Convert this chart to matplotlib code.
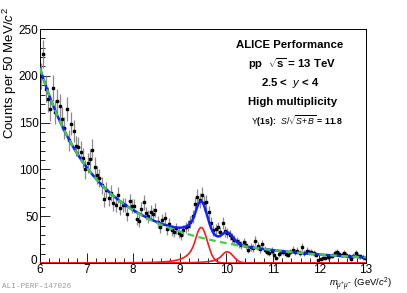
import numpy as np
import matplotlib
matplotlib.use("Agg")
import matplotlib.pyplot as plt
import matplotlib.transforms as mtransforms
from matplotlib.ticker import MultipleLocator

# ---------------- data ----------------
bin_lo, bin_hi, bin_w = 6.0, 13.0, 0.05
counts = [
    200, 223, 186, 175, 165, 187, 161, 173, 168, 154, 144, 165, 131, 149, 141,
    125, 124, 119, 112, 100, 107, 111, 121, 103, 94, 91,
    83, 68, 78, 69, 75, 64, 62, 73, 59, 62,
    62, 52, 66, 61, 61, 47, 45, 58, 65, 53,
    50, 55, 52, 57, 44, 38, 46, 48, 36, 42,
    35, 33, 37, 32, 30, 35, 38,
    40, 44, 50, 63, 71, 67, 73, 64, 65, 54, 43, 35, 36,
    38, 33, 43, 34, 32, 30, 27, 25, 23, 21,
    19, 22, 19, 14, 17, 16, 24, 18, 15, 20,
    14, 12, 11, 13, 9, 5, 10, 12, 12, 10,
    9, 12, 14, 12, 13, 11, 17, 11, 13, 12,
    12, 11, 9, 3, 4, 5, 5, 6, 7, 8,
    11, 12, 10, 9, 11, 9, 7, 4, 8, 11,
    8, 7, 6, 5,
]

# fit-function parameters
bkg_amp_fast, bkg_slope_fast = 110.0, 1.1
bkg_amp_slow, bkg_slope_slow = 98.0, 0.4
ups1_amp, ups1_mean, ups1_sigma = 38.0, 9.46, 0.135
ups2_amp, ups2_mean, ups2_sigma = 12.0, 10.02, 0.13
cb_alpha, cb_n = 1.0, 3.0

centers = bin_lo + bin_w * (np.arange(len(counts)) + 0.5)
counts = np.array(counts, dtype=float)
errors = np.sqrt(counts)


def background(m):
    return (bkg_amp_fast * np.exp(-bkg_slope_fast * (m - bin_lo))
            + bkg_amp_slow * np.exp(-bkg_slope_slow * (m - bin_lo)))


def crystal_ball(m, amp, mu, sig):
    t = (m - mu) / sig
    a = abs(cb_alpha)
    A = (cb_n / a) ** cb_n * np.exp(-a * a / 2)
    B = cb_n / a - a
    out = np.where(t > -a, np.exp(-t * t / 2),
                   A * np.power(np.clip(B - t, 1e-9, None), -cb_n))
    return amp * out


mm = np.linspace(bin_lo, bin_hi, 1400)
bk = background(mm)
s1 = crystal_ball(mm, ups1_amp, ups1_mean, ups1_sigma)
s2 = crystal_ball(mm, ups2_amp, ups2_mean, ups2_sigma)
tot = bk + s1 + s2

# ---------------- figure ----------------
plt.rcParams['font.family'] = ['Liberation Sans', 'DejaVu Sans']
plt.rcParams['mathtext.fontset'] = 'custom'
plt.rcParams['mathtext.rm'] = 'Liberation Sans'
plt.rcParams['mathtext.it'] = 'Liberation Sans:italic'
plt.rcParams['mathtext.bf'] = 'Liberation Sans:bold'

W, H = 407, 293
fig = plt.figure(figsize=(W / 100, H / 100), dpi=100)
ax = fig.add_axes([40 / W, 30 / H, 326 / W, 234 / H])

ax.errorbar(centers, counts, yerr=errors, xerr=bin_w / 2, fmt='none',
            ecolor='#8a8a8a', elinewidth=0.9, capsize=0, zorder=2)
ax.plot(centers, counts, 's', color='black', markersize=1.6, zorder=3)

ax.plot(mm, s1, color='#ff1a1a', lw=1.2, zorder=4)
ax.plot(mm, s2, color='#ff1a1a', lw=1.2, zorder=4)
ax.plot(mm, tot, color='#1020ff', lw=1.8, zorder=5)
ax.plot(mm, bk, color='#44cc44', lw=1.6, ls=(0, (3.0, 2.0)), zorder=6)

ax.set_xlim(bin_lo, bin_hi)
ax.set_ylim(0, 250)
ax.xaxis.set_major_locator(MultipleLocator(1))
ax.xaxis.set_minor_locator(MultipleLocator(0.2))
ax.yaxis.set_major_locator(MultipleLocator(50))
ax.yaxis.set_minor_locator(MultipleLocator(10))
ax.tick_params(which='both', direction='in', top=False, right=False,
               labelsize=8.5, colors='black', width=0.6)
ax.tick_params(which='major', length=7, pad=1)
ax.tick_params(axis='x', which='major', pad=1.0)
ax.tick_params(which='minor', length=3.5)
for s in ax.spines.values():
    s.set_linewidth(0.7)

# nudge the "0" label up a little, as in the reference
fig.canvas.draw()
for lab in ax.get_yticklabels():
    if lab.get_text() in ('0',):
        lab.set_transform(lab.get_transform() + mtransforms.ScaledTranslation(
            -1 / 100, 3 / 100, fig.dpi_scale_trans))

fig.text(10 / W, 1 - 7 / H, r'Counts per 50 MeV/$c^{2}$', fontsize=9.5,
         rotation=90, ha='center', va='top')
fig.text(392 / W, 1 - 284.5 / H, r'$m_{\mu^{+}\mu^{-}}$ (GeV/$c^{2}$)',
         fontsize=6.8, ha='right', va='center')

kw = dict(transform=fig.transFigure, ha='center', va='center',
          fontweight='bold', fontsize=8.2)
fig.text(290 / W, 1 - 45 / H, 'ALICE Performance', **kw)
fig.text(292 / W, 1 - 64 / H, r'pp  $\sqrt{\mathbf{s}}$ = 13 TeV', **kw)
fig.text(290 / W, 1 - 83 / H, r'2.5 <  $\mathbf{\mathit{y}}$ < 4', **kw)
fig.text(293 / W, 1 - 102 / H, 'High multiplicity', **kw)
fig.text(297 / W, 1 - 121 / H,
         r'$\Upsilon$(1s):  $S/\sqrt{S\!+\!B}$ = 11.8',
         transform=fig.transFigure, ha='center', va='center',
         fontweight='bold', fontsize=6.3)

fig.text(2 / W, 1 - 287 / H, 'ALI-PERF-147026', fontsize=5.5,
         color='#999999', family=['Liberation Mono', 'DejaVu Sans Mono'],
         ha='left', va='center')

fig.savefig('out.png', dpi=100)
